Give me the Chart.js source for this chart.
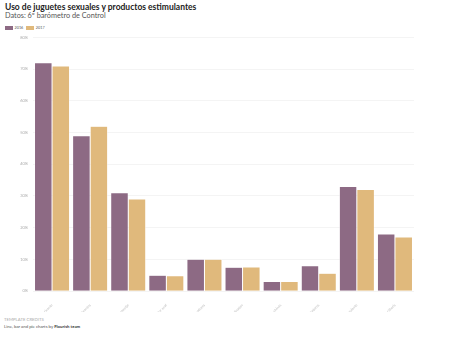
<!DOCTYPE html>
<html>
<head>
<meta charset="utf-8">
<script src="https://cdn.jsdelivr.net/npm/chart.js@4"></script>
<style>
  body { margin: 0; width: 454px; height: 341px; background: #fff; font-family: Lato, "Open Sans", sans-serif; position: relative; overflow: hidden; }
  #title { position: absolute; left: 5px; top: 2px; font-size: 8.5px; font-weight: bold; color: #222; line-height: 10px; }
  #subtitle { position: absolute; left: 5px; top: 11px; font-size: 7.3px; color: #555; line-height: 9px; }
  #legend { position: absolute; left: 5px; top: 25px; font-size: 3.8px; color: #555; display: flex; gap: 3px; align-items: center; }
  #legend span.sw { display: inline-block; width: 8px; height: 3.5px; margin-right: 1.5px; vertical-align: middle; }
  #wrap { position: absolute; left: 0; top: 30px; width: 454px; height: 282px; }
  #credits { position: absolute; left: 4px; top: 316px; font-size: 4.3px; color: #aaa; line-height: 7px; }
  #credits b { color: #333; }
</style>
</head>
<body>
<div id="title">Uso de juguetes sexuales y productos estimulantes</div>
<div id="subtitle">Datos: 6º barómetro de Control</div>
<div id="legend">
  <div><span class="sw" style="background:#8d6a84"></span>2016</div>
  <div><span class="sw" style="background:#e0b97c"></span>2017</div>
</div>
<div id="wrap"><canvas id="c"></canvas></div>
<div id="credits">TEMPLATE CREDITS<br><span style="color:#555">Line, bar and pie charts by <b>Flourish team</b></span></div>
<script>
// datos
const categorias = ["Gel lubricante", "Lubricantes", "Aceite de masaje", "Vibrador anal", "Masajeadores", "Anillo vibrador", "Bolas chinas", "Consoladores", "Gel estimulante", "Vibrador de clítoris"];
const serie2016 = [72, 49, 31, 5, 10, 7.5, 3, 8, 33, 18];
const serie2017 = [71, 52, 29, 4.8, 10, 7.6, 3, 5.6, 32, 17];
const ticksY = [0, 10, 20, 30, 40, 50, 60, 70, 80];

new Chart(document.getElementById("c"), {
  type: "bar",
  data: {
    labels: categorias,
    datasets: [
      { label: "2016", data: serie2016, backgroundColor: "#8d6a84", borderColor: "#fff", borderWidth: 0.5 },
      { label: "2017", data: serie2017, backgroundColor: "#e0b97c", borderColor: "#fff", borderWidth: 0.5 }
    ]
  },
  options: {
    responsive: true,
    maintainAspectRatio: false,
    animation: false,
    layout: { padding: { left: 0, right: 40, top: 6, bottom: 0 } },
    datasets: { bar: { categoryPercentage: 0.92, barPercentage: 1.0 } },
    plugins: { legend: { display: false }, tooltip: { enabled: false } },
    scales: {
      x: {
        grid: { display: false },
        border: { display: false },
        afterFit: function (scale) { scale.height = 21; },
        ticks: { color: "#bbb", font: { size: 3.6, family: "Lato" }, minRotation: 45, maxRotation: 45, autoSkip: false, padding: 4 }
      },
      y: {
        min: 0,
        max: 80,
        afterFit: function (scale) { scale.width = 33; },
        afterBuildTicks: function (scale) { scale.ticks = ticksY.map(v => ({ value: v })); },
        border: { display: false },
        grid: { color: "#ececec", lineWidth: 0.6, drawTicks: false },
        ticks: { color: "#aaa", font: { size: 4, family: "Lato" }, padding: 5, callback: v => v + "%" }
      }
    }
  }
});
</script>
</body>
</html>
